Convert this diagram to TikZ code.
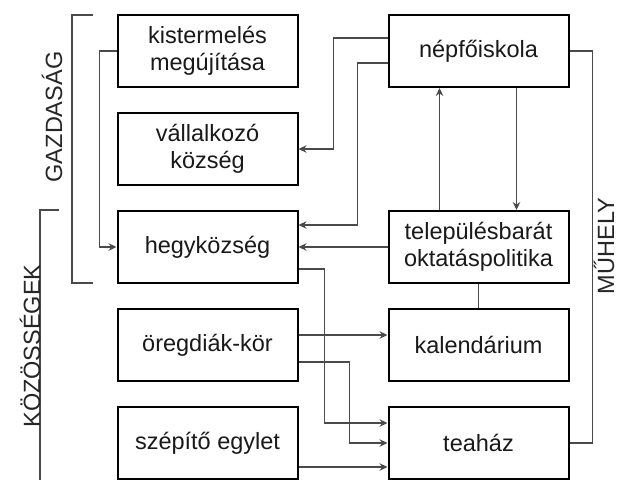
\documentclass[tikz,border=0pt]{standalone}
\usepackage{fontspec}
\setmainfont{Liberation Sans}
\usepackage{tikz}
\usetikzlibrary{calc,arrows.meta,positioning}
\definecolor{linegray}{HTML}{4A4A4A}
\tikzset{box/.style={draw=black, line width=2pt, minimum width=180pt, minimum height=72pt, align=center, text=black!90, font=\fontsize{23.5}{27}\selectfont},
conn/.style={draw=linegray, line width=1.4pt},
tip/.style={-{Stealth[length=8pt,width=7.5pt]}},
group/.style={rotate=90, inner sep=0pt, font=\fontsize{23.5}{27}\selectfont, text=black!85}}

\begin{document}
\begin{tikzpicture}[x=1pt, y=-1pt]
\clip (0,0) rectangle (620,479);
\fill[white] (0,0) rectangle (620,479);
%left column
\node[box] (kis) at (207.5,51) {kistermelés\\megújítása};
\node[box, below=24pt of kis] (val) {vállalkozó\\község};
\node[box, below=24pt of val] (hegy) {hegyközség};
\node[box, below=24pt of hegy] (oreg) {öregdiák-kör};
\node[box, below=24pt of oreg] (sze) {szépítő egylet};
%right column
\node[box, right=89pt of kis] (nep) {népfőiskola};
\node[box, right=89pt of hegy] (tel) {településbarát\\oktatáspolitika};
\node[box, right=89pt of oreg] (kal) {kalendárium};
\node[box, right=89pt of sze] (tea) {teaház};
%brackets
\draw[conn] (93,15) -- (72,15) -- (72,283) -- (93,283);
\draw[conn] (59,210) -- (40,210) -- (40,490);
\node[group] (gazd) at (52,117) {GAZDASÁG};
\node[group] (koz) at (30,346) {KÖZÖSSÉGEK};
\node[group] (muh) at (604,246) {MŰHELY};
%connectors
\draw[conn,tip] (kis.west) -- ++(-17,0) |- (hegy.west);
\draw[conn,tip] ([yshift=13pt]nep.west) -- ++(-54,0) |- (val.east);
\draw[conn,tip] ([yshift=-12pt]nep.west) -- ++(-30,0) |- ([yshift=22pt]hegy.east);
\draw[conn,tip] (tel.west) -- (hegy.east);
\draw[conn,tip] ([xshift=-39pt]tel.north) -- ([xshift=-39pt]nep.south);
\draw[conn,tip] ([xshift=38pt]nep.south) -- ([xshift=38pt]tel.north);
\draw[conn] (nep.east) -- ++(23,0) |- (tea.east);
\draw[conn] (tel.south) -- (kal.north);
\draw[conn,tip] ([yshift=-22pt]hegy.east) -- ++(26,0) |- ([yshift=20pt]tea.west);
\draw[conn,tip] ([yshift=10pt]oreg.east) -- ([yshift=10pt]kal.west);
\draw[conn,tip] ([yshift=-17pt]oreg.east) -- ++(51,0) |- (tea.west);
\draw[conn,tip] ([yshift=-24pt]sze.east) -- ([yshift=-24pt]tea.west);
\end{tikzpicture}
\end{document}
